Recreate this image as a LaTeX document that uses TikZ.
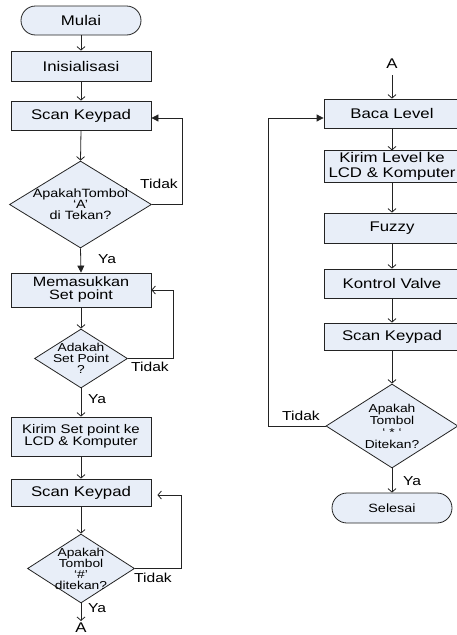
\documentclass[tikz,border=0pt]{standalone}
\usepackage{fontspec}
\setmainfont{Liberation Sans}[FakeStretch=1.2]
\usetikzlibrary{shapes.geometric,shapes.misc,arrows.meta}
\definecolor{boxfill}{RGB}{232,238,248}
\definecolor{linecol}{RGB}{35,35,35}
\begin{document}
\begin{tikzpicture}[x=1pt,y=-1pt,
  every node/.style={inner sep=2pt},
  procbox/.style={rectangle, draw=linecol, fill=boxfill, line width=0.8pt, align=center, font=\fontsize{14}{15}\selectfont},
  termbox/.style={rounded rectangle, draw=linecol, fill=boxfill, line width=0.8pt, font=\fontsize{14}{15}\selectfont},
  decision/.style={diamond, draw=linecol, fill=boxfill, line width=0.8pt, inner sep=0pt},
  dtext/.style={align=center, inner sep=0pt},
  lbl/.style={font=\fontsize{13}{14}\selectfont},
  oarr/.style={draw=linecol, line width=0.8pt, -{Straight Barb[length=3.5pt,width=8pt]}},
  farr/.style={draw=linecol, line width=0.8pt, -{Triangle[length=7pt,width=7pt]}}
]
\useasboundingbox (0,0) rectangle (457,635);

% left column
\node[termbox, minimum width=124pt, minimum height=29pt] (mulai) at (81,20.5) {Mulai};
\node[procbox, minimum width=140pt, minimum height=30pt] (init) at (81,66) {Inisialisasi};
\node[procbox, minimum width=140pt, minimum height=29pt] (scan1) at (81,115.5) {Scan Keypad};
\node[decision, minimum width=142pt, minimum height=87pt,
  label={[name=d1t, dtext, font=\fontsize{12}{11}\selectfont]center:{ApakahTombol\\‘A’\\di Tekan?}}] (d1) at (80.5,204.5) {};
\node[procbox, minimum width=140pt, minimum height=34pt, font=\fontsize{13.5}{13}\selectfont] (mem) at (81,290) {Memasukkan\\Set point};
\node[decision, minimum width=93pt, minimum height=59pt,
  label={[name=d2t, dtext, font=\fontsize{11.5}{11}\selectfont]center:{Adakah\\Set Point\\?}}] (d2) at (81,358.5) {};
\node[procbox, minimum width=140pt, minimum height=39pt, font=\fontsize{12.5}{12.5}\selectfont] (kirim1) at (81,436.5) {Kirim Set point ke\\LCD \& Komputer};
\node[procbox, minimum width=140pt, minimum height=27pt] (scan2) at (81,492.5) {Scan Keypad};
\node[decision, minimum width=107pt, minimum height=69pt,
  label={[name=d3t, dtext, font=\fontsize{11.5}{10.7}\selectfont]center:{Apakah\\Tombol\\‘\#’\\ditekan?}}] (d3) at (81,568.5) {};
\node[font=\fontsize{14}{15}\selectfont] (a1) at (81,628) {A};

% right column
\node[font=\fontsize{14}{15}\selectfont] (a2) at (392,64) {A};
\node[procbox, minimum width=136pt, minimum height=29pt] (baca) at (392,113.5) {Baca Level};
\node[procbox, minimum width=136pt, minimum height=31pt, font=\fontsize{14}{14.3}\selectfont] (kirim2) at (392,166.5) {Kirim Level ke\\LCD \& Komputer};
\node[procbox, minimum width=136pt, minimum height=30pt] (fuzzy) at (392,228) {Fuzzy};
\node[procbox, minimum width=136pt, minimum height=29pt] (kontrol) at (392,283.5) {Kontrol Valve};
\node[procbox, minimum width=136pt, minimum height=27pt] (scan3) at (392,336.5) {Scan Keypad};
\node[decision, minimum width=132pt, minimum height=84pt,
  label={[name=d4t, dtext, font=\fontsize{11.5}{12}\selectfont]center:{Apakah\\Tombol\\‘ * ‘\\Ditekan?}}] (d4) at (392,426) {};
\node[termbox, minimum width=124pt, minimum height=30pt, font=\fontsize{12}{13}\selectfont] (selesai) at (392,508) {Selesai};

% labels
\node[lbl] (t1) at (159,184) {Tidak};
\node[lbl] (y1) at (107,259) {Ya};
\node[lbl] (t2) at (150,367) {Tidak};
\node[lbl] (y2) at (97,399) {Ya};
\node[lbl] (t3) at (153,578) {Tidak};
\node[lbl] (y3) at (97,608) {Ya};
\node[lbl] (t4) at (301,416) {Tidak};
\node[lbl] (y4) at (412,481) {Ya};

% connectors left
\draw[oarr] (mulai.south) -- (init.north);
\draw[oarr] (init.south) -- (scan1.north);
\draw[oarr] (scan1.south) -- (d1.north);
\draw[farr] (d1.east) -- ++(30.5,0) |- ([yshift=-2.5pt]scan1.east);
\draw[farr] (d1.south) -- (mem.north);
\draw[oarr] (mem.south) -- (d2.north);
\draw[oarr] (d2.east) -- ++(45.5,0) |- (mem.east);
\draw[oarr] (d2.south) -- (kirim1.north);
\draw[oarr] (kirim1.south) -- (scan2.north);
\draw[oarr] (scan2.south) -- (d3.north);
\draw[oarr, shorten >=6pt] (d3.east) -- ++(46.5,0) |- ([yshift=-2.5pt]scan2.east);
\draw[oarr] (d3.south) -- (a1.north);

% connectors right
\draw[oarr, shorten <=4pt] (a2.south) -- (baca.north);
\draw[oarr] (baca.south) -- (kirim2.north);
\draw[oarr] (kirim2.south) -- (fuzzy.north);
\draw[oarr] (fuzzy.south) -- (kontrol.north);
\draw[oarr] (kontrol.south) -- (scan3.north);
\draw[oarr] (scan3.south) -- (d4.north);
\draw[farr] (d4.west) -- ++(-57,0) |- ([yshift=-4.5pt]baca.west);
\draw[oarr] (d4.south) -- (selesai.north);
\end{tikzpicture}
\end{document}
